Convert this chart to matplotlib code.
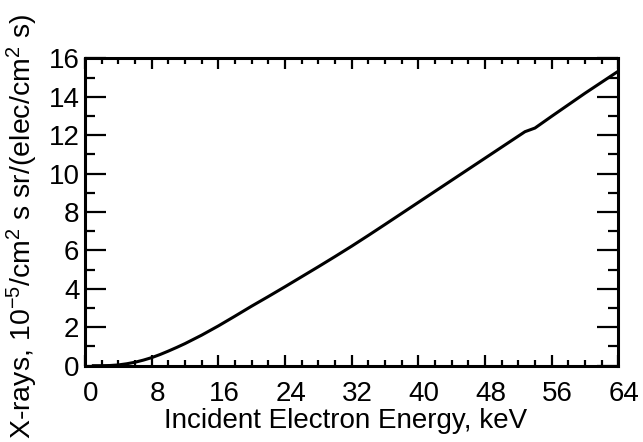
import matplotlib
matplotlib.use("Agg")
import matplotlib.pyplot as plt
from matplotlib.ticker import MultipleLocator
from matplotlib.transforms import ScaledTranslation

plt.rcParams["font.family"] = ["Liberation Sans", "DejaVu Sans"]
plt.rcParams["mathtext.fontset"] = "custom"
plt.rcParams["mathtext.rm"] = "Liberation Sans"
plt.rcParams["mathtext.default"] = "regular"

# Incident electron energy (keV) and X-ray yield (1e-5 / cm^2 s sr / (elec/cm^2 s))
energy_kev = [1, 2, 3, 4, 5, 6, 7, 8, 9, 10, 11, 12, 13, 14, 15, 16, 18, 20,
              22, 24, 26, 28, 30, 32, 34, 36, 40, 44, 48, 52, 52.8, 54, 56,
              60, 64]
xray_yield = [0.0, 0.0, 0.01, 0.04, 0.10, 0.18, 0.29, 0.42, 0.58, 0.76, 0.95,
              1.15, 1.37, 1.59, 1.83, 2.07, 2.58, 3.10, 3.60, 4.11, 4.63, 5.15,
              5.68, 6.22, 6.78, 7.35, 8.50, 9.65, 10.80, 11.95, 12.18, 12.37,
              12.98, 14.18, 15.33]

x_ticks = [0, 8, 16, 24, 32, 40, 48, 56, 64]
y_ticks = [0, 2, 4, 6, 8, 10, 12, 14, 16]

fig = plt.figure(figsize=(6.43, 4.42), dpi=100)
ax = fig.add_axes([85 / 643, 1 - 365.7 / 442, (618.3 - 85) / 643, (365.7 - 58.3) / 442])

ax.plot(energy_kev, xray_yield, color="black", lw=2.2, solid_joinstyle="round")

ax.set_xlim(0, 64)
ax.set_ylim(0, 16)
ax.set_xticks(x_ticks)
ax.set_yticks(y_ticks)
ax.xaxis.set_minor_locator(MultipleLocator(2))
ax.yaxis.set_minor_locator(MultipleLocator(1))

for s in ax.spines.values():
    s.set_linewidth(2.2)

ax.tick_params(axis="both", which="both", direction="in", top=True, right=True,
               width=1.6, colors="black", labelsize=20)
ax.tick_params(axis="x", which="major", length=8, pad=11)
ax.tick_params(axis="x", which="minor", length=4)
ax.tick_params(axis="y", which="major", length=15, pad=4)
ax.tick_params(axis="y", which="minor", length=7.5)

# shift x tick labels slightly to the right
shift = ScaledTranslation(6 / 100, 0, fig.dpi_scale_trans)
for lbl in ax.get_xticklabels():
    lbl.set_transform(lbl.get_transform() + shift)

fig.text(346 / 643, 1 - 421 / 442, "Incident Electron Energy, keV",
         ha="center", va="center", fontsize=20)
fig.text(22 / 643, 1 - 226 / 442,
         r"X-rays, 10$^{-5}$/cm$^{2}$ s sr/(elec/cm$^{2}$ s)",
         ha="center", va="center", rotation=90, fontsize=20.5)

fig.savefig("out.png", dpi=100)
